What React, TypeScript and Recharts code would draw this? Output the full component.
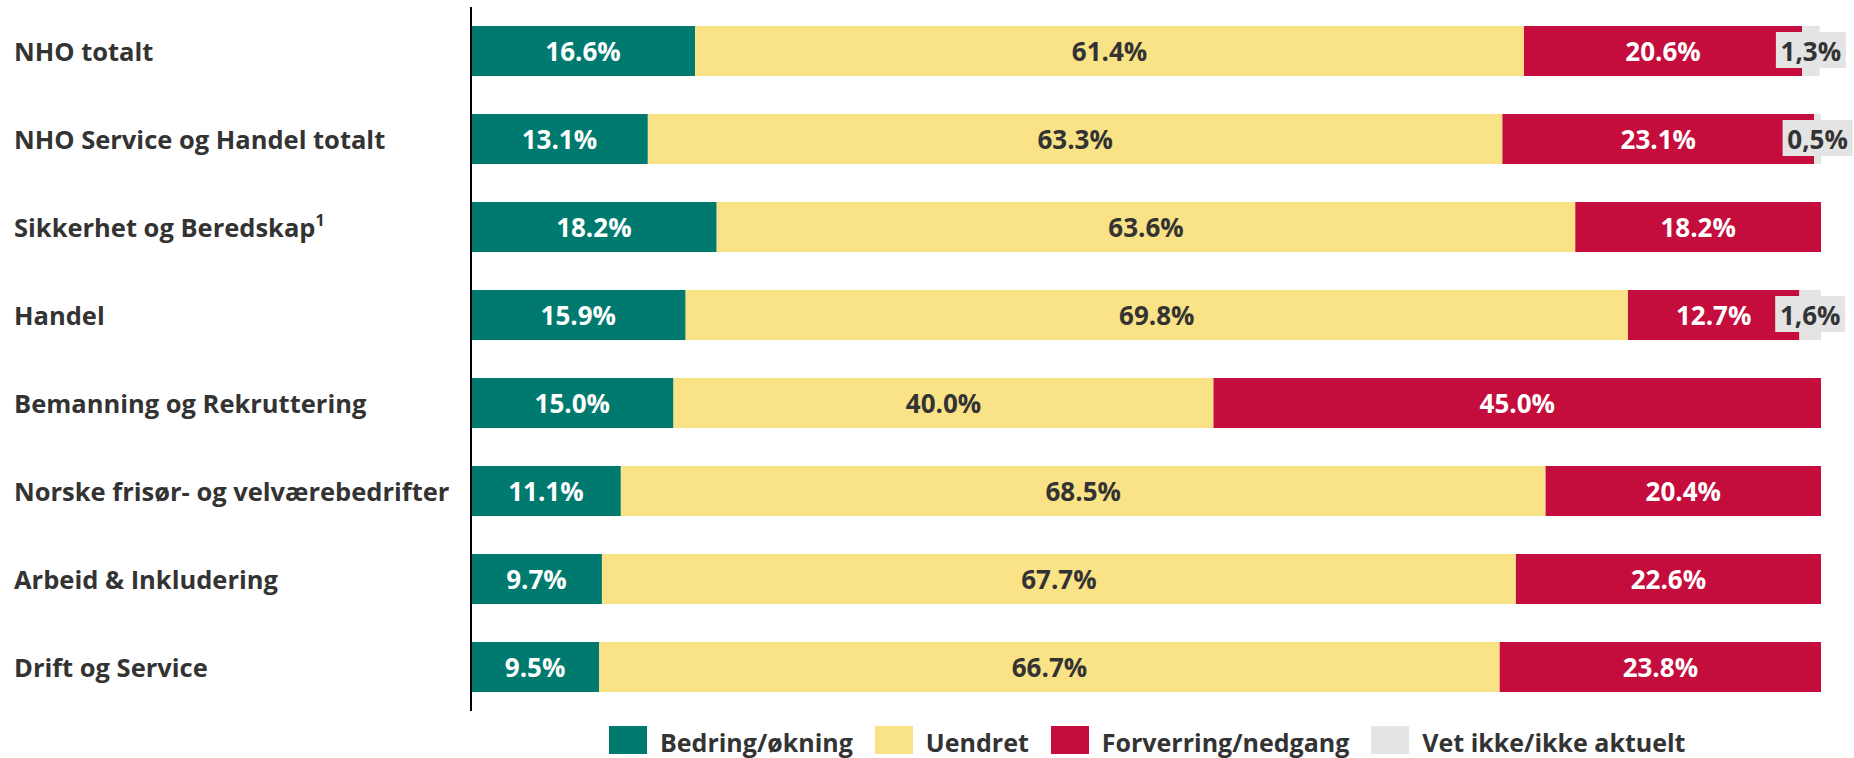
import React from 'react';
import { BarChart, Bar, XAxis, YAxis, LabelList } from 'recharts';

const categories = [
  'NHO totalt',
  'NHO Service og Handel totalt',
  'Sikkerhet og Beredskap',
  'Handel',
  'Bemanning og Rekruttering',
  'Norske frisør- og velværebedrifter',
  'Arbeid & Inkludering',
  'Drift og Service',
];
const footnotes = ['', '', '1', '', '', '', '', ''];

const bedring = [16.6, 13.1, 18.2, 15.9, 15.0, 11.1, 9.7, 9.5];
const uendret = [61.4, 63.3, 63.6, 69.8, 40.0, 68.5, 67.7, 66.7];
const forverring = [20.6, 23.1, 18.2, 12.7, 45.0, 20.4, 22.6, 23.8];
const vetIkke = [1.3, 0.5, null, 1.6, null, null, null, null];

const series = [
  { key: 'bedring', name: 'Bedring/økning', color: '#007A6E', text: '#ffffff', comma: false, boxed: false },
  { key: 'uendret', name: 'Uendret', color: '#FAE287', text: '#333333', comma: false, boxed: false },
  { key: 'forverring', name: 'Forverring/nedgang', color: '#C40D3C', text: '#ffffff', comma: false, boxed: false },
  { key: 'vetIkke', name: 'Vet ikke/ikke aktuelt', color: '#E4E4E4', text: '#333333', comma: true, boxed: true },
];

const data = categories.map((name, i) => ({
  name,
  bedring: bedring[i],
  uendret: uendret[i],
  forverring: forverring[i],
  vetIkke: vetIkke[i],
}));

const FONT = '"Open Sans", "DejaVu Sans", sans-serif';

const CategoryTick = (props: any) => {
  const { y, payload, index } = props;
  const note = footnotes[index] || '';
  return (
    <text x={14} y={y + 10} textAnchor="start" fontFamily={FONT} fontWeight={700} fontSize={25.5} fill="#333333">
      {payload.value}
      {note && (
        <tspan fontSize={16} dy={-11}>{note}</tspan>
      )}
    </text>
  );
};

const makeLabel = (s: typeof series[number]) => (props: any) => {
  const { x, y, width, height, value } = props;
  if (value === null || value === undefined) return null;
  const cx = x + width / 2;
  const cy = y + height / 2;
  let txt = value.toFixed(1) + '%';
  if (s.comma) txt = txt.replace('.', ',');
  return (
    <g>
      {s.boxed && <rect x={cx - 35} y={cy - 19} width={70} height={36} fill={s.color} />}
      <text x={cx} y={cy + 10} textAnchor="middle" fontFamily={FONT} fontWeight={700} fontSize={26} fill={s.text}>
        {txt}
      </text>
    </g>
  );
};

export default function App() {
  return (
    <div style={{ position: 'absolute', left: 0, top: 0, width: 1854, height: 758, background: '#fff' }}>
      <BarChart
        width={1854}
        height={758}
        data={data}
        layout="vertical"
        margin={{ top: 7, right: 33, bottom: 47, left: 0 }}
        barSize={50}
      >
        <XAxis type="number" domain={[0, 100]} hide />
        <YAxis
          type="category"
          dataKey="name"
          width={471}
          tickLine={false}
          axisLine={{ stroke: '#000000', strokeWidth: 2 }}
          tick={<CategoryTick />}
        />
        {series.map((s) => (
          <Bar key={s.key} dataKey={s.key} name={s.name} stackId="a" fill={s.color} isAnimationActive={false}>
            <LabelList dataKey={s.key} content={makeLabel(s)} />
          </Bar>
        ))}
      </BarChart>
      <div
        style={{
          position: 'absolute',
          left: 609,
          top: 726,
          display: 'flex',
          alignItems: 'center',
          fontFamily: FONT,
          fontWeight: 700,
          fontSize: 25,
          color: '#333333',
        }}
      >
        {series.map((s) => (
          <div key={s.key} style={{ display: 'flex', alignItems: 'center', marginRight: 22 }}>
            <div style={{ width: 38, height: 28, background: s.color, marginRight: 13 }} />
            <span style={{ lineHeight: '28px', position: 'relative', top: 2 }}>{s.name}</span>
          </div>
        ))}
      </div>
    </div>
  );
}
